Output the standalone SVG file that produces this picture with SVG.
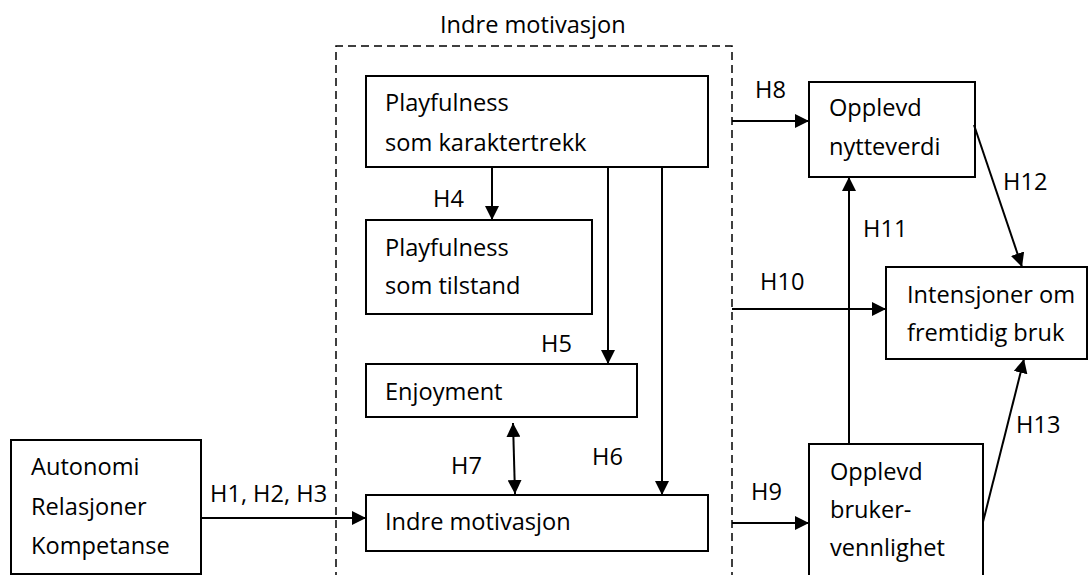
<svg xmlns="http://www.w3.org/2000/svg" width="1089" height="575" viewBox="0 0 1089 575">
<style>
text{font-family:"Open Sans","Liberation Sans",sans-serif;font-size:23.6px;fill:#000}
.box{fill:#fff;stroke:#000;stroke-width:2}
.ln{fill:none;stroke:#000;stroke-width:2}
.arr{fill:none;stroke:#000;stroke-width:2;marker-end:url(#ah)}
.dash{fill:none;stroke:#000;stroke-width:1.5;stroke-dasharray:8,5}
</style>
<defs>
<marker id="ah" markerUnits="userSpaceOnUse" markerWidth="15" markerHeight="14" refX="14" refY="7" orient="auto-start-reverse">
<path d="M0,0 L14,7 L0,14 z" fill="#000"/>
</marker>
</defs>
<rect width="1089" height="575" fill="#fff"/>

<g id="group-indre">
<path class="dash" d="M336,580 L336,46 L732,46 L732,580"/>
<text x="440" y="33">Indre motivasjon</text>
</g>

<g id="node-playful-trait">
<rect class="box" x="366" y="76" width="342" height="91"/>
<text x="385" y="111">Playfulness</text>
<text x="385" y="151">som karaktertrekk</text>
</g>

<g id="node-playful-state">
<rect class="box" x="366" y="220" width="226" height="94"/>
<text x="385" y="256">Playfulness</text>
<text x="385" y="294">som tilstand</text>
</g>

<g id="node-enjoyment">
<rect class="box" x="366" y="364" width="271" height="53"/>
<text x="385" y="400">Enjoyment</text>
</g>

<g id="node-indre">
<rect class="box" x="366" y="495" width="342" height="56"/>
<text x="385" y="530">Indre motivasjon</text>
</g>

<g id="node-autonomi">
<rect class="box" x="11" y="440" width="190" height="134"/>
<text x="31" y="475">Autonomi</text>
<text x="31" y="515">Relasjoner</text>
<text x="31" y="554">Kompetanse</text>
</g>

<g id="node-nytte">
<rect class="box" x="809" y="82" width="166" height="95"/>
<text x="829" y="116">Opplevd</text>
<text x="829" y="155">nytteverdi</text>
</g>

<g id="node-intensjoner">
<rect class="box" x="886" y="267" width="201" height="92"/>
<text x="907" y="303">Intensjoner om</text>
<text x="907" y="341">fremtidig bruk</text>
</g>

<g id="node-bruker">
<rect class="box" x="809" y="444" width="174" height="140"/>
<text x="830" y="480">Opplevd</text>
<text x="830" y="518">bruker-</text>
<text x="830" y="556">vennlighet</text>
</g>

<g id="connectors">
<line class="arr" x1="492" y1="167" x2="492" y2="220"/>
<line class="arr" x1="608" y1="167" x2="608" y2="364"/>
<line class="arr" x1="662" y1="167" x2="662" y2="495"/>
<line class="arr" x1="513" y1="423" x2="515" y2="494" style="marker-start:url(#ah)"/>
<line class="arr" x1="201" y1="518" x2="366" y2="518"/>
<line class="arr" x1="732" y1="121" x2="809" y2="121"/>
<line class="arr" x1="732" y1="309" x2="886" y2="309"/>
<line class="arr" x1="732" y1="523" x2="809" y2="523"/>
<line class="arr" x1="849" y1="444" x2="849" y2="177"/>
<line class="arr" x1="974" y1="125" x2="1022" y2="267"/>
<line class="arr" x1="983" y1="522" x2="1024" y2="359"/>
</g>

<g id="labels">
<text x="433" y="207">H4</text>
<text x="541" y="352">H5</text>
<text x="592" y="465">H6</text>
<text x="451" y="474">H7</text>
<text x="210" y="502">H1, H2, H3</text>
<text x="755" y="98">H8</text>
<text x="760" y="290">H10</text>
<text x="751" y="500">H9</text>
<text x="863" y="237">H11</text>
<text x="1003" y="190">H12</text>
<text x="1016" y="433">H13</text>
</g>
</svg>
